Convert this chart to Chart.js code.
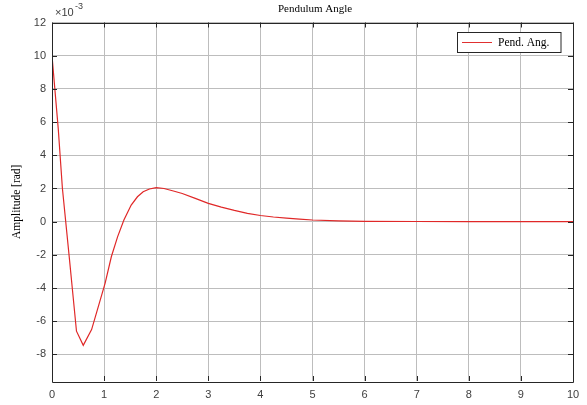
<!DOCTYPE html>
<html>
<head>
<meta charset="utf-8">
<script src="https://cdn.jsdelivr.net/npm/chart.js@4"></script>
<style>
html,body{margin:0;padding:0;background:#fff;}
#wrap{width:587px;height:405px;position:relative;}
</style>
</head>
<body>
<div id="wrap"><canvas id="c" width="587" height="405"></canvas></div>
<script>
// Data (time in s, amplitude in 1e-3 rad)
const timeValues = [0, 0.12, 0.2, 0.33, 0.47, 0.6, 0.76, 0.9, 1.02, 1.14, 1.26, 1.38, 1.52, 1.64, 1.75, 1.87, 2.0, 2.15, 2.33, 2.5, 2.75, 3.0, 3.25, 3.5, 3.75, 4.0, 4.25, 4.5, 4.75, 5.0, 5.5, 6.0, 7, 8, 9, 10];
const angleValues = [10, 5.6, 2.0, -2.1, -6.6, -7.45, -6.5, -5.0, -3.7, -2.1, -0.9, 0.1, 1.0, 1.5, 1.8, 1.97, 2.05, 2.0, 1.85, 1.7, 1.4, 1.1, 0.88, 0.68, 0.5, 0.37, 0.28, 0.21, 0.15, 0.1, 0.05, 0.02, 0.01, 0, 0, 0];
const xTicks = [0,1,2,3,4,5,6,7,8,9,10];
const yTicks = [-8,-6,-4,-2,0,2,4,6,8,10,12];
const seriesName = 'Pend. Ang.';
const titleText = 'Pendulum Angle';
const yLabelText = 'Amplitude [rad]';

const points = timeValues.map((t,i)=>({x:t,y:angleValues[i]}));

const decor = {
  id:'decor',
  afterDraw(chart){
    const ctx = chart.ctx;
    const a = chart.chartArea;
    const xs = chart.scales.x, ys = chart.scales.y;
    ctx.save();
    // box
    ctx.strokeStyle = '#262626';
    ctx.lineWidth = 1;
    ctx.beginPath();
    ctx.rect(Math.round(a.left)+0.5, Math.round(a.top)+0.5, Math.round(a.right-a.left), Math.round(a.bottom-a.top));
    ctx.stroke();
    // inner ticks
    ctx.beginPath();
    xTicks.forEach(v=>{
      const px = Math.round(xs.getPixelForValue(v))+0.5;
      ctx.moveTo(px, a.bottom); ctx.lineTo(px, a.bottom-5);
      ctx.moveTo(px, a.top); ctx.lineTo(px, a.top+5);
    });
    yTicks.forEach(v=>{
      const py = Math.round(ys.getPixelForValue(v))+0.5;
      ctx.moveTo(a.left, py); ctx.lineTo(a.left+5, py);
      ctx.moveTo(a.right, py); ctx.lineTo(a.right-5, py);
    });
    ctx.stroke();
    // title
    ctx.fillStyle = '#000';
    ctx.font = '11px "Liberation Serif"';
    ctx.textAlign = 'center';
    ctx.textBaseline = 'middle';
    ctx.fillText(titleText, 315, 9);
    // exponent
    ctx.fillStyle = '#404040';
    ctx.font = '11px "Liberation Sans"';
    ctx.textAlign = 'left';
    ctx.fillText('\u00d710', 55, 13);
    ctx.font = '9px "Liberation Sans"';
    ctx.fillText('-3', 75, 7);
    // y label
    ctx.save();
    ctx.translate(17, (a.top+a.bottom)/2);
    ctx.rotate(-Math.PI/2);
    ctx.fillStyle = '#000';
    ctx.font = '11.5px "Liberation Serif"';
    ctx.textAlign = 'center';
    ctx.fillText(yLabelText, 0, 0);
    ctx.restore();
    // legend
    ctx.fillStyle = '#fff';
    ctx.fillRect(457.5, 32.5, 103.5, 20);
    ctx.strokeStyle = '#262626';
    ctx.strokeRect(457.5, 32.5, 103.5, 20);
    ctx.strokeStyle = '#e03030';
    ctx.beginPath();
    ctx.moveTo(462, 42.5); ctx.lineTo(492, 42.5);
    ctx.stroke();
    ctx.fillStyle = '#000';
    ctx.font = '11.5px "Liberation Serif"';
    ctx.textAlign = 'left';
    ctx.fillText(seriesName, 498, 43);
    ctx.restore();
  }
};

new Chart(document.getElementById('c'), {
  type:'line',
  data:{datasets:[{label:seriesName,data:points,borderColor:'#e02828',borderWidth:1.2,pointRadius:0,tension:0,fill:false}]},
  options:{
    responsive:false,
    animation:false,
    layout:{padding:{top:22.5,right:14,left:0,bottom:0}},
    plugins:{legend:{display:false},title:{display:false},tooltip:{enabled:false}},
    scales:{
      x:{type:'linear',min:0,max:10,
        afterFit(s){s.height=24;},
        afterBuildTicks(s){s.ticks=xTicks.map(v=>({value:v}));},
        grid:{color:'#bdbdbd',drawTicks:false,lineWidth:1},
        border:{display:false},
        ticks:{padding:7.5,color:'#404040',font:{family:'Liberation Sans',size:11},maxRotation:0,autoSkip:false}
      },
      y:{type:'linear',min:-9.6,max:12,
        afterFit(s){s.width=52;},
        afterBuildTicks(s){s.ticks=yTicks.map(v=>({value:v}));},
        grid:{color:'#bdbdbd',drawTicks:false,lineWidth:1},
        border:{display:false},
        ticks:{padding:6,color:'#404040',font:{family:'Liberation Sans',size:11},autoSkip:false}
      }
    }
  },
  plugins:[decor]
});
</script>
</body>
</html>
